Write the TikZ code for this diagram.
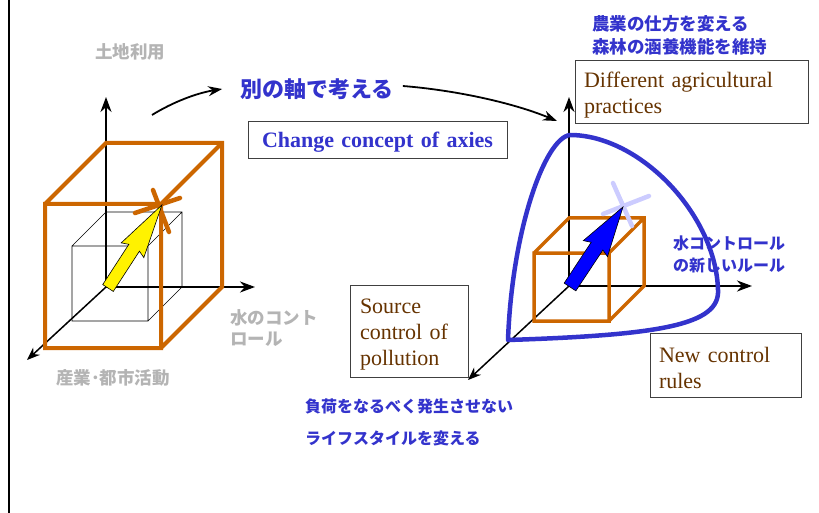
\documentclass[tikz,border=0pt]{standalone}
\usepackage{fontspec}
\setmainfont{Liberation Serif}
\newfontfamily\jpfont{Noto Sans CJK JP}
\usetikzlibrary{arrows.meta}
\definecolor{axblue}{HTML}{3333CC}
\definecolor{axorange}{HTML}{CC6600}
\definecolor{axbrown}{HTML}{663300}
\definecolor{axgray}{HTML}{B4B4B4}
\definecolor{axpale}{HTML}{CCCCFF}
\definecolor{axframe}{HTML}{404040}
\tikzset{
  axis/.style={-{Stealth[length=15pt,width=11pt]},line width=2.2pt},
  diag/.style={-{Stealth[length=13pt,width=10pt]},line width=1.5pt},
  bendarrow/.style={-{Stealth[length=14pt,width=10pt]},line width=1.8pt},
  fat/.style={draw=black,line width=.6pt,line join=miter},
  hit/.style={line width=4.5pt,line cap=round},
  hull/.style={draw=axblue,line width=4.5pt,line join=round},
  box/.style={draw=axframe,line width=1pt,fill=white,align=left,text=axbrown,font=\fontsize{22}{26}\selectfont,inner xsep=9pt,inner ysep=0pt},
  jp/.style={font=\jpfont\bfseries\fontsize{16}{22}\selectfont,text=axblue,align=left,inner sep=0pt},
  axlabel/.style={font=\jpfont\bfseries\fontsize{17.5}{21}\selectfont,text=axgray,align=left,inner sep=0pt},
}

\begin{document}
\begin{tikzpicture}[x=1pt,y=-1pt]
  \useasboundingbox (0,0) rectangle (819,513);
  \draw[line width=2pt] (9,0) -- (9,513);
  % axes
  \coordinate (o1) at (106,287);
  \coordinate (o1up) at (106,97);
  \coordinate (o1right) at (255,287);
  \coordinate (o1down) at (27,360);
  \coordinate (o2) at (569,286);
  \coordinate (o2up) at (569,97);
  \coordinate (o2right) at (752,286);
  \coordinate (o2down) at (468,380);
  \draw[axis] (o1) -- (o1up);
  \draw[axis] (o1) -- (o1right);
  \draw[diag] (o1) -- (o1down);
  \draw[axis] (o2) -- (o2up);
  \draw[axis] (o2) -- (o2right);
  \draw[diag] (o2) -- (o2down);
  \foreach \bx/\by/\w/\h/\d/\col/\lw in {106/287/76/75/34/black/.6pt,106/287/116/144/61/axorange/4pt,569/286/75/68/35/axorange/3.5pt} {
    \draw[draw=\col,line width=\lw] (\bx-\d,\by+\d) rectangle ++(\w,-\h)
      (\bx-\d,\by+\d-\h) -- (\bx,\by-\h) -- (\bx+\w,\by-\h) -- (\bx+\w,\by) -- (\bx-\d+\w,\by+\d)
      (\bx-\d+\w,\by+\d-\h) -- (\bx+\w,\by-\h);
  }
  \draw[hull] (508,340) .. controls (512,230) and (545,138) .. (570,135)
    .. controls (640,135) and (716,215) .. (718,290)
    .. controls (720,325) and (660,335) .. cycle;
  \draw[hit,axorange] (153,190) -- (169,232) (135,213) -- (180,198);
  \draw[hit,axpale] (613,183) -- (632,226) (603,214) -- (649,196);
  \begin{scope}[shift={(108,288)},rotate=57]
    \filldraw[fat,fill=yellow] (0,-6.3) -- (48,-6.3) -- (45,-13.5) -- (99,0) -- (45,13.5) -- (48,6.3) -- (0,6.3) -- cycle;
  \end{scope}
  \begin{scope}[shift={(570,287)},rotate=56.5]
    \filldraw[fat,fill=blue] (0,-7) -- (49,-7) -- (46,-14.5) -- (96,0) -- (46,14.5) -- (49,7) -- (0,7) -- cycle;
  \end{scope}
  % labels
  \node[axlabel] (landuse) at (130,52) {土地利用};
  \node[axlabel,anchor=west] (water) at (230,328.5) {水のコント\\ロール};
  \node[axlabel] (industry) at (113,378) {産業･都市活動};
  \node[jp,font=\jpfont\bfseries\fontsize{22}{26}\selectfont] (newaxis) at (317,89) {別の軸で考える};
  \node[jp,anchor=west,font=\jpfont\bfseries\fontsize{17.5}{23}\selectfont] (farming) at (592,35.5) {農業の仕方を変える\\森林の涵養機能を維持};
  \node[jp,anchor=west] (waterrule) at (673,254) {水コントロール\\の新しいルール};
  \node[jp,anchor=west,font=\jpfont\bfseries\fontsize{16}{32}\selectfont] (lifestyle) at (305,422) {負荷をなるべく発生させない\\ライフスタイルを変える};
  \node[box,text=axblue,font=\bfseries\fontsize{22}{26}\selectfont,align=center,text width=241pt,minimum height=37pt] (concept) at (377.5,140.5) {\rule{0pt}{19pt}Change concept of axies};
  \node[box,text width=215pt,minimum height=63pt] (practices) at (691.5,92.5) {\rule{0pt}{21pt}Different agricultural\\practices};
  \node[box,text width=98pt,inner xsep=10pt,minimum height=92pt] (source) at (409,331) {\rule{0pt}{21pt}Source\\control of\\pollution};
  \node[box,text width=133pt,minimum height=64pt] (rules) at (725.5,365) {\rule{0pt}{21pt}New control\\rules};
  \coordinate (c1) at (152,115);
  \coordinate (c2) at (557,121);
  \draw[bendarrow] (c1) .. controls (173,102) and (197,93) .. ([xshift=-18pt]newaxis.west);
  \draw[bendarrow] ([xshift=9pt,yshift=3pt]newaxis.east) .. controls (453,90) and (511,102) .. (c2);
\end{tikzpicture}
\end{document}
